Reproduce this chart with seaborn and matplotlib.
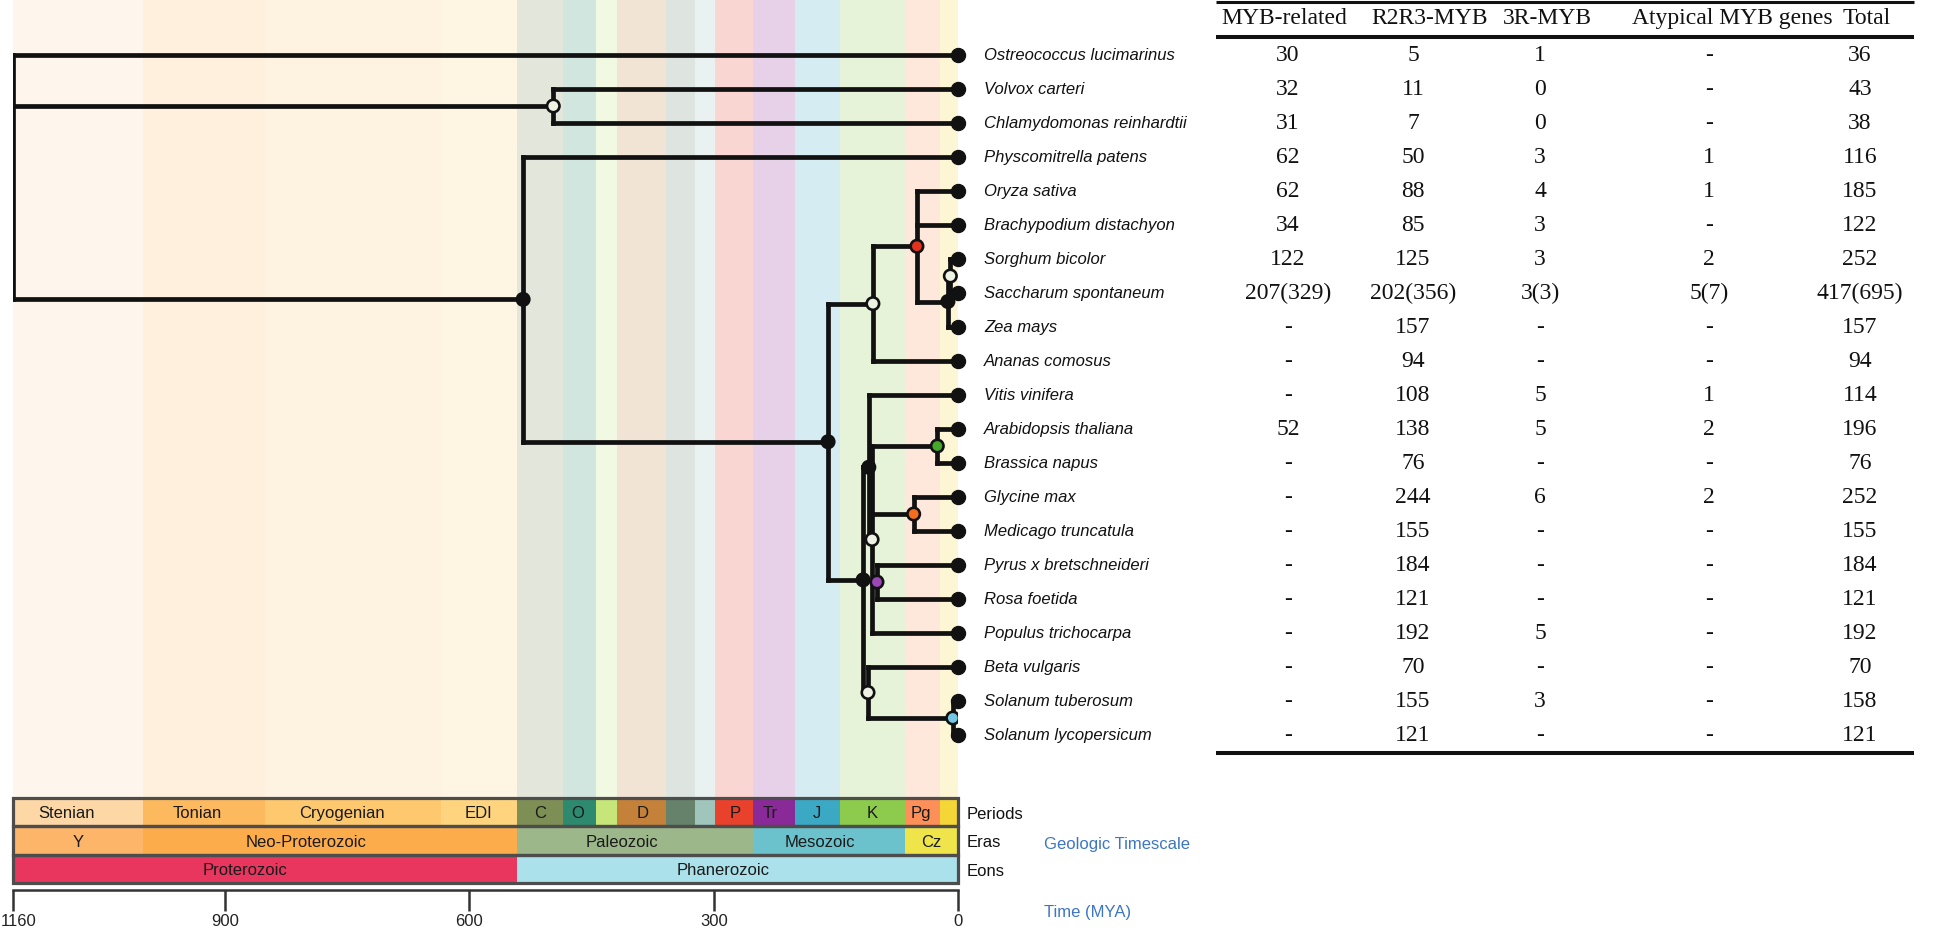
import matplotlib
matplotlib.use("Agg")
import matplotlib.pyplot as plt
from matplotlib.patches import Rectangle
from matplotlib.transforms import ScaledTranslation
import seaborn as sns
import pandas as pd

sns.set_theme(style="white")
plt.rcParams['font.family'] = ['Liberation Sans', 'DejaVu Sans']

# ---- species (tips, top to bottom) ----
species = ["Ostreococcus lucimarinus", "Volvox carteri", "Chlamydomonas reinhardtii",
           "Physcomitrella patens", "Oryza sativa", "Brachypodium distachyon",
           "Sorghum bicolor", "Saccharum spontaneum", "Zea mays", "Ananas comosus",
           "Vitis vinifera", "Arabidopsis thaliana", "Brassica napus", "Glycine max",
           "Medicago truncatula", "Pyrus x bretschneideri", "Rosa foetida",
           "Populus trichocarpa", "Beta vulgaris", "Solanum tuberosum",
           "Solanum lycopersicum"]

# ---- table columns ----
headers = ["MYB-related", "R2R3-MYB", "3R-MYB", "Atypical MYB genes", "Total"]
myb_related = ["30", "32", "31", "62", "62", "34", "122", "207(329)", "-", "-", "-",
               "52", "-", "-", "-", "-", "-", "-", "-", "-", "-"]
r2r3_myb = ["5", "11", "7", "50", "88", "85", "125", "202(356)", "157", "94", "108",
            "138", "76", "244", "155", "184", "121", "192", "70", "155", "121"]
r3_myb = ["1", "0", "0", "3", "4", "3", "3", "3(3)", "-", "-", "5", "5", "-", "6",
          "-", "-", "-", "5", "-", "3", "-"]
atypical = ["-", "-", "-", "1", "1", "-", "2", "5(7)", "-", "-", "1", "2", "-", "2",
            "-", "-", "-", "-", "-", "-", "-"]
total = ["36", "43", "38", "116", "185", "122", "252", "417(695)", "157", "94", "114",
         "196", "76", "252", "155", "184", "121", "192", "70", "158", "121"]

# ---- tree: internal nodes (age in MYA) ----
node_names = ["root", "green_algae", "land_plants", "angiosperms", "monocots", "poaceae",
              "andropogoneae", "sorghum_saccharum", "eudicots", "vitis_rosids", "rosids",
              "brassicaceae", "fabaceae", "rosaceae", "asterids", "solanum"]
node_ages = [1160, 497, 534, 160, 105, 51, 13, 10, 117, 110, 106, 26, 55, 100, 111, 7]
node_children = [
    ["Ostreococcus lucimarinus", "green_algae", "land_plants"],
    ["Volvox carteri", "Chlamydomonas reinhardtii"],
    ["Physcomitrella patens", "angiosperms"],
    ["monocots", "eudicots"],
    ["poaceae", "Ananas comosus"],
    ["Oryza sativa", "Brachypodium distachyon", "andropogoneae"],
    ["sorghum_saccharum", "Zea mays"],
    ["Sorghum bicolor", "Saccharum spontaneum"],
    ["vitis_rosids", "asterids"],
    ["Vitis vinifera", "rosids"],
    ["brassicaceae", "fabaceae", "rosaceae", "Populus trichocarpa"],
    ["Arabidopsis thaliana", "Brassica napus"],
    ["Glycine max", "Medicago truncatula"],
    ["Pyrus x bretschneideri", "Rosa foetida"],
    ["Beta vulgaris", "solanum"],
    ["Solanum tuberosum", "Solanum lycopersicum"],
]
node_marker = ["none", "open", "black", "black", "open", "#e5321f", "black", "open",
               "black", "black", "open", "#46a82a", "#f36d1f", "#9a46b4", "open", "#74c7e5"]

# ---- geologic timescale ----
period_labels = ["Stenian", "Tonian", "Cryogenian", "EDI", "C", "O", "", "D", "", "",
                 "P", "Tr", "J", "K", "Pg", ""]
period_start = [1160, 1000, 850, 635, 541, 485, 444, 419, 359, 323, 299, 252, 201, 145, 66, 23]
period_end = [1000, 850, 635, 541, 485, 444, 419, 359, 323, 299, 252, 201, 145, 66, 23, 0]
period_label_at = [1094, 934, 756, 589, 513, 467, 0, 388, 0, 0, 274, 231, 174, 106, 46, 0]
period_colors = ["#fdd7a6", "#fcb95e", "#fec86f", "#fed57e", "#7e8f55", "#2d8a6e",
                 "#c6e67a", "#c4813a", "#66826a", "#9fc5bd", "#e8412c", "#8a2a98",
                 "#3ba9c4", "#8ccb4b", "#fd9058", "#f5d637"]
era_labels = ["Y", "Neo-Proterozoic", "Paleozoic", "Mesozoic", "Cz"]
era_start = [1160, 1000, 541, 252, 66]
era_end = [1000, 541, 252, 66, 0]
era_label_at = [1080, 800, 413, 170, 34]
era_colors = ["#fdb56a", "#fdac4c", "#9cb88a", "#6bc2cc", "#efe54a"]
eon_labels = ["Proterozoic", "Phanerozoic"]
eon_start = [1160, 541]
eon_end = [541, 0]
eon_label_at = [875, 289]
eon_colors = ["#e8365f", "#abe1ea"]
time_ticks = [1160, 900, 600, 300, 0]

# ---- layout ----
W, H = 1945, 930
fig = plt.figure(figsize=(W / 100, H / 100), dpi=100)
x0, x1 = 12.7, 958.5          # pixel positions of 1160 and 0 MYA
tree_top, tree_bot = 0, 797
ylim = ((tree_bot - 55) / 34, (tree_top - 55) / 34)

ax = fig.add_axes([x0 / W, 1 - tree_bot / H, (x1 - x0) / W, (tree_bot - tree_top) / H])
ax.set_xlim(1160, 0)
ax.set_ylim(*ylim)
ax.set_axis_off()

# background period bands
for s, e, c in zip(period_start, period_end, period_colors):
    ax.axvspan(e, s, color=c, alpha=0.21, lw=0, zorder=0)

# node coordinates
pos = {name: (0, i) for i, name in enumerate(species)}
def place(name):
    if name in pos:
        return pos[name]
    k = node_names.index(name)
    ys = [place(ch)[1] for ch in node_children[k]]
    pos[name] = (node_ages[k], (min(ys) + max(ys)) / 2)
    return pos[name]
for n in node_names:
    place(n)

line_kw = dict(color="#111111", lw=3.4, solid_capstyle="projecting", zorder=3)
for k, n in enumerate(node_names):
    age, _ = pos[n]
    ys = [pos[ch][1] for ch in node_children[k]]
    ax.plot([age, age], [min(ys), max(ys)], **line_kw)
    for ch in node_children[k]:
        ax.plot([age, pos[ch][0]], [pos[ch][1], pos[ch][1]], **line_kw)

# tip dots
sns.scatterplot(x=[0] * len(species), y=list(range(len(species))), ax=ax, s=105,
                color="#111111", edgecolor="#111111", zorder=5, clip_on=False)

# node dots
face = {"black": "#111111", "open": "#eef2e4"}
nodes = pd.DataFrame({"name": node_names,
                      "age": [pos[n][0] for n in node_names],
                      "y": [pos[n][1] for n in node_names],
                      "marker": node_marker})
nodes = nodes[nodes.marker != "none"]
palette = {r.name: face.get(r.marker, r.marker) for r in nodes.itertuples()}
sns.scatterplot(data=nodes, x="age", y="y", hue="name", palette=palette, legend=False,
                ax=ax, s=80, edgecolor="#111111", linewidth=1.9, zorder=6)

# species labels
for i, name in enumerate(species):
    ax.annotate(name, xy=(0, i), xytext=(18.5, 0), textcoords="offset points",
                va="center", ha="left", style="italic", fontsize=12, color="#111111",
                annotation_clip=False)

# ---- timescale box ----
ts_top, ts_bot = 798, 883
axt = fig.add_axes([x0 / W, 1 - ts_bot / H, (x1 - x0) / W, (ts_bot - ts_top) / H])
axt.set_xlim(1160, 0)
axt.set_ylim(3, 0)
axt.set_axis_off()
rows = [(period_labels, period_start, period_end, period_colors, period_label_at),
        (era_labels, era_start, era_end, era_colors, era_label_at),
        (eon_labels, eon_start, eon_end, eon_colors, eon_label_at)]
for r, (labs, st, en, cols, at) in enumerate(rows):
    axt.barh([r] * len(st), [s - e for s, e in zip(st, en)], left=en, height=1,
             align="edge", color=cols, lw=0)
    for lab, xa in zip(labs, at):
        if lab:
            axt.text(xa, r + 0.56, lab, ha="center", va="center",
                     fontsize=12, color="#1a1a1a")
    axt.add_patch(Rectangle((0, r), 1160, 1, fill=False, edgecolor="#4d4d4d",
                            lw=2.3, clip_on=False, zorder=4))
for r, lab in enumerate(["Periods", "Eras", "Eons"]):
    axt.annotate(lab, xy=(1, r + 0.58), xycoords=("axes fraction", "data"),
                 xytext=(6, 0), textcoords="offset points", va="center",
                 fontsize=12, color="#111111")

# ---- time axis ----
axx = fig.add_axes([x0 / W, 1 - 910 / H, (x1 - x0) / W, 20 / H])
axx.set_xlim(1160, 0)
axx.set_xticks(time_ticks)
axx.set_xticklabels([str(t) for t in time_ticks])
axx.set_yticks([])
sns.despine(ax=axx, top=False, left=True, right=True, bottom=True)
axx.spines["top"].set_color("#333333")
axx.spines["top"].set_linewidth(1.8)
axx.tick_params(axis="x", top=True, bottom=False, direction="in", length=15, width=1.8,
                color="#333333", labelbottom=True, labeltop=False, pad=3,
                labelsize=12, labelcolor="#222222")
axx.patch.set_alpha(0)
first = axx.get_xticklabels()[0]
first.set_horizontalalignment("left")
first.set_transform(first.get_transform() + ScaledTranslation(-0.122, 0, fig.dpi_scale_trans))

fig.text(1044 / W, 1 - 844 / H, "Geologic Timescale", color="#3d76c1", fontsize=12, va="center")
fig.text(1044 / W, 1 - 912 / H, "Time (MYA)", color="#3d76c1", fontsize=12, va="center")

# ---- table ----
axb = fig.add_axes([1216 / W, 1 - tree_bot / H, (1914 - 1216) / W, (tree_bot - tree_top) / H])
axb.set_xlim(1216, 1914)
axb.set_ylim(*ylim)
axb.set_axis_off()
header_x = [1284, 1430, 1547, 1732, 1867]
value_x = [1288, 1413, 1540, 1709, 1860]
serif = ["Liberation Serif", "DejaVu Serif"]
for hx, h in zip(header_x, headers):
    axb.text(hx, -1.06, h, ha="center", va="center", fontsize=17, family=serif, color="#111111")
for vx, col in zip(value_x, [myb_related, r2r3_myb, r3_myb, atypical, total]):
    for i, v in enumerate(col):
        axb.text(vx, i, v, ha="center", va="center", fontsize=17, family=serif, color="#111111")
axb.hlines(-1.57, 1216, 1914, color="#111111", lw=2.2, clip_on=False)
axb.hlines(-0.53, 1216, 1914, color="#111111", lw=2.9, clip_on=False)
axb.hlines(20.53, 1216, 1914, color="#111111", lw=2.9, clip_on=False)

fig.savefig("out.png", dpi=100)
